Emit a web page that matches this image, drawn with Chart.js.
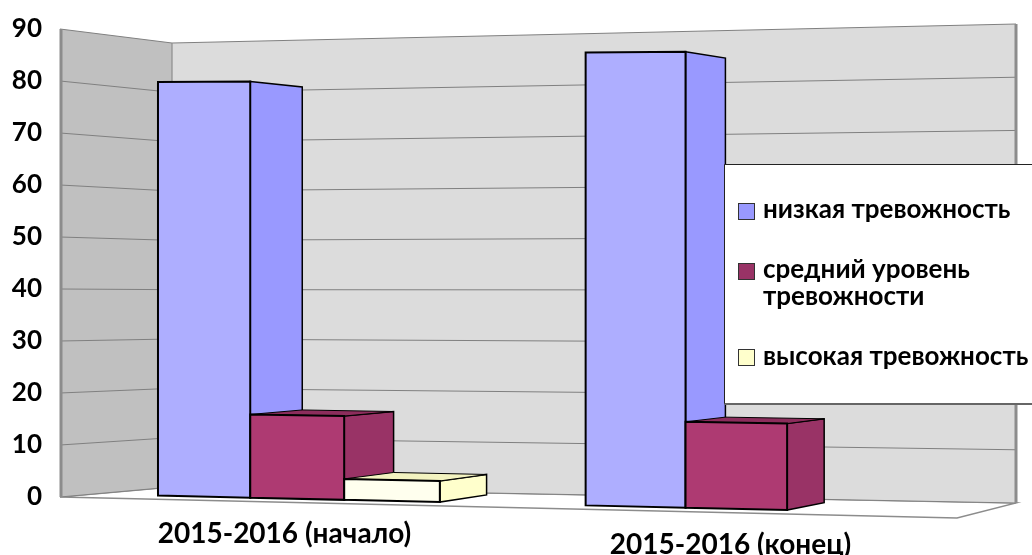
<!DOCTYPE html>
<html>
<head>
<meta charset="utf-8">
<style>html,body{margin:0;padding:0;background:#fff}#w{width:1032px;height:555px;position:relative}</style>
<script src="https://cdn.jsdelivr.net/npm/chart.js@4/dist/chart.umd.min.js"></script>
</head>
<body>
<div id="w"><canvas id="c" width="1032" height="555"></canvas></div>
<script>
const categories = ['2015-2016 (начало)', '2015-2016 (конец)'];
const lowAnxiety = [80, 85];
const midAnxiety = [16, 16];
const highAnxiety = [4, 0];
const seriesNames = ['низкая тревожность', 'средний уровень тревожности', 'высокая тревожность'];
const yTicks = [0, 10, 20, 30, 40, 50, 60, 70, 80, 90];

const FONT = 'Lato, "Open Sans", sans-serif';
const faces = [
  {front:'#AEAEFF', side:'#9999FF', top:'#8888EE'},
  {front:'#AE3A72', side:'#993366', top:'#8C2D5C'},
  {front:'#FFFFEE', side:'#FFFFCC', top:'#F3F3C0'}
];
// perspective of the picture
const floorY = x => 495.6 + (x - 158) * 0.0229;
const unit = x => 5.17 + (x - 158) * 0.00037;
const px = x => 297 + 0.959 * (x - 299) + 0.0000886 * (x - 299) * (x - 299);
const back = (x, y) => [x + 0.0279 * (2115 - x), y + 0.03 * (265 - y)];

function poly(ctx, pts, fill, stroke, lw) {
  ctx.beginPath();
  pts.forEach((p, i) => i ? ctx.lineTo(p[0], p[1]) : ctx.moveTo(p[0], p[1]));
  ctx.closePath();
  if (fill) { ctx.fillStyle = fill; ctx.fill(); }
  if (stroke) { ctx.strokeStyle = stroke; ctx.lineWidth = lw; ctx.lineJoin = 'miter'; ctx.stroke(); }
}

class Bar3DElement extends Chart.BarElement {
  draw(ctx) {
    const f = faces[this.seriesIndex];
    const v = this.value;
    if (!v) return;
    const xl = px(this.x - this.width / 2), xr = px(this.x + this.width / 2);
    const lb = [xl, floorY(xl)], rb = [xr, floorY(xr)];
    const lt = [xl, lb[1] - v * unit(xl)], rt = [xr, rb[1] - v * unit(xr)];
    ctx.save();
    poly(ctx, [rt, back(rt[0], rt[1]), back(rb[0], rb[1]), rb], f.side, '#000', 1.5);
    if (lt[1] > 265) poly(ctx, [lt, back(lt[0], lt[1]), back(rt[0], rt[1]), rt], f.top, '#000', 1);
    poly(ctx, [lt, rt, rb, lb], f.front, '#000', 2);
    ctx.restore();
  }
}
Bar3DElement.id = 'bar3dElement';
Bar3DElement.defaults = Object.assign({}, Chart.BarElement.defaults);
Bar3DElement.overrides = {};
class Bar3DController extends Chart.BarController {
  draw() {
    this._cachedMeta.data.forEach((el, i) => {
      el.seriesIndex = this.index;
      el.value = this.getParsed(i).y;
    });
    super.draw();
  }
}
Bar3DController.id = 'bar3d';
Bar3DController.defaults = Object.assign({}, Chart.BarController.defaults, {dataElementType: 'bar3dElement'});
Bar3DController.overrides = Chart.BarController.overrides;
Chart.register(Bar3DElement, Bar3DController);

const walls = {
  id: 'walls',
  beforeDatasetsDraw(chart) {
    const {ctx, scales: {y}} = chart;
    const top = y.getPixelForValue(90), bot = y.getPixelForValue(0);
    const A = [60, top, bot], B = [172, 43, 487], C = [1016, 24, 503];
    const at = (P, v) => P[1] + (P[2] - P[1]) * (y.getPixelForValue(v) - top) / (bot - top);
    ctx.save();
    poly(ctx, [[60, bot], [172, 487], [1016, 503], [957, 518]], '#fff', '#8c8c8c', 1.5);
    poly(ctx, [[60, top], [172, 43], [172, 487], [60, bot]], '#C0C0C0');
    poly(ctx, [[172, 43], [1016, 24], [1016, 503], [172, 487]], '#DCDCDC');
    ctx.lineWidth = 1; ctx.strokeStyle = '#808080';
    y.ticks.forEach(t => {
      ctx.beginPath();
      ctx.moveTo(60, at(A, t.value));
      ctx.lineTo(172, at(B, t.value));
      ctx.lineTo(1016, at(C, t.value));
      ctx.stroke();
    });
    ctx.strokeStyle = '#8c8c8c'; ctx.lineWidth = 3;
    ctx.beginPath(); ctx.moveTo(61, top); ctx.lineTo(61, bot); ctx.stroke();
    ctx.beginPath(); ctx.moveTo(1016, 24); ctx.lineTo(1016, 503); ctx.stroke();
    ctx.lineWidth = 1.2;
    ctx.beginPath(); ctx.moveTo(172, 43); ctx.lineTo(172, 487); ctx.stroke();
    ctx.restore();
    // painter's order: left series first, so each bar hides the side of the previous one
    chart.getSortedVisibleDatasetMetas().forEach(m => m.controller.draw());
    return false;
  }
};

const overlay = {
  id: 'overlay',
  afterDraw(chart) {
    const {ctx, scales: {x}} = chart;
    ctx.save();
    ctx.fillStyle = '#000';
    ctx.font = 'bold 28px ' + FONT;
    ctx.textAlign = 'center'; ctx.textBaseline = 'alphabetic';
    ctx.fillText(chart.data.labels[0], x.getPixelForValue(0) - 14.5, 543);
    ctx.fillText(chart.data.labels[1], x.getPixelForValue(1) - 8.5, 554);
    // legend
    ctx.fillStyle = '#fff'; ctx.fillRect(725, 164, 307, 240);
    ctx.strokeStyle = '#222'; ctx.lineWidth = 1;
    ctx.beginPath(); ctx.moveTo(1032, 164.5); ctx.lineTo(724.5, 164.5); ctx.lineTo(724.5, 404); ctx.stroke();
    ctx.strokeStyle = '#666'; ctx.lineWidth = 2;
    ctx.beginPath(); ctx.moveTo(724.5, 404); ctx.lineTo(1032, 404); ctx.stroke();
    const items = [
      {box: 203, lines: [[chart.data.datasets[0].label, 218]]},
      {box: 263, lines: [['средний уровень', 278], ['тревожности', 305]]},
      {box: 349, lines: [[chart.data.datasets[2].label, 365]]}
    ];
    const cols = faces.map(f => f.side);
    ctx.textAlign = 'left';
    ctx.font = 'bold 26px ' + FONT;
    items.forEach((it, i) => {
      ctx.fillStyle = cols[i]; ctx.strokeStyle = '#333'; ctx.lineWidth = 1;
      ctx.fillRect(738.5, it.box + .5, 16, 16);
      ctx.strokeRect(738.5, it.box + .5, 16, 16);
      ctx.fillStyle = '#000';
      it.lines.forEach(l => ctx.fillText(l[0], 763, l[1]));
    });
    ctx.restore();
  }
};

new Chart(document.getElementById('c'), {
  type: 'bar3d',
  data: {
    labels: categories,
    datasets: [
      {label: seriesNames[0], data: lowAnxiety},
      {label: seriesNames[1], data: midAnxiety},
      {label: seriesNames[2], data: highAnxiety}
    ]
  },
  options: {
    responsive: false,
    animation: false,
    layout: {padding: {top: 29, bottom: 58, left: 0, right: 73}},
    datasets: {bar3d: {barPercentage: 1, categoryPercentage: 0.668}},
    plugins: {legend: {display: false}, title: {display: false}, tooltip: {enabled: false}},
    scales: {
      x: {display: false, type: 'category'},
      y: {
        type: 'linear', min: 0, max: 90,
        afterFit(s) { s.width = 79; s.paddingTop = 0; s.paddingBottom = 0; },
        afterBuildTicks(s) { s.ticks = yTicks.map(v => ({value: v})); },
        grid: {display: false, drawTicks: false},
        border: {display: false},
        ticks: {padding: 37, color: '#000', font: {family: FONT, weight: 'bold', size: 26}}
      }
    }
  },
  plugins: [walls, overlay]
});
</script>
</body>
</html>
